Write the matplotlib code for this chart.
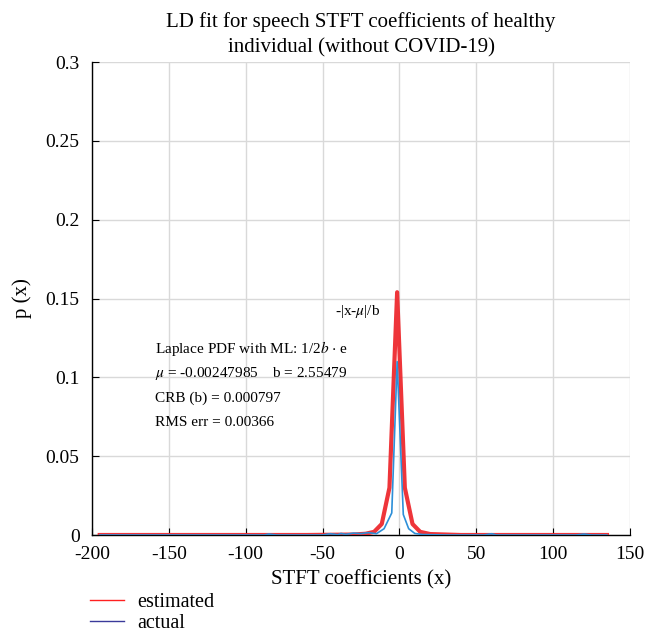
import matplotlib
matplotlib.use("Agg")
import matplotlib.pyplot as plt
from matplotlib.lines import Line2D

plt.rcParams['font.family'] = ['Liberation Serif', 'DejaVu Serif']
plt.rcParams['mathtext.fontset'] = 'stix'

# estimated (Laplace fit) curve
x_est = [-195, -60, -30, -22, -16.5, -11.5, -6.5, -1.5, 3.5, 8.5, 13.5, 20, 40, 135]
p_est = [0.0, 0.0, 0.0003, 0.0008, 0.002, 0.007, 0.030, 0.154, 0.030, 0.007, 0.002, 0.0006, 0.0, 0.0]

# actual histogram curve
x_act = [-195, -100, -88, -85, -80, -50, -45, -40, -38, -35, -30, -25, -20, -15, -10,
         -5, -1.5, 2.5, 6, 10, 15, 30, 55, 60, 63, 70, 115, 120, 125, 135]
p_act = [0.0, 0.0, 0.0, 0.0006, 0.0, 0.0, 0.0008, 0.0002, 0.001, 0.0004, 0.0012, 0.0009,
         0.0015, 0.0008, 0.004, 0.014, 0.110, 0.013, 0.004, 0.001, 0.0003, 0.0, 0.0,
         0.0008, 0.0, 0.0, 0.0, 0.0006, 0.0, 0.0]

x_ticks = [-200, -150, -100, -50, 0, 50, 100, 150]
y_ticks = [0, 0.05, 0.1, 0.15, 0.2, 0.25, 0.3]
y_tick_labels = ["0", "0.05", "0.1", "0.15", "0.2", "0.25", "0.3"]

fig = plt.figure(figsize=(6.64, 6.33), dpi=100)
ax = fig.add_axes([0.1386, 0.1548, 0.8102, 0.7472])

ax.plot(x_est, p_est, color='#ee2a2f', lw=3.0, alpha=0.95, zorder=3, solid_joinstyle='round')
ax.plot(x_act, p_act, color='#2d8fd8', lw=1.2, zorder=4)

ax.set_xlim(-200, 150)
ax.set_ylim(0, 0.3)
ax.set_xticks(x_ticks)
ax.set_xticklabels([str(t) for t in x_ticks])
ax.set_yticks(y_ticks)
ax.set_yticklabels(y_tick_labels)
ax.tick_params(direction='in', length=5, labelsize=14, colors='black')
ax.tick_params(axis='x', pad=8)
ax.tick_params(axis='y', pad=9)
ax.grid(True, color='#d9d9d9', lw=1.0)
ax.set_axisbelow(True)
for s in ['top', 'right']:
    ax.spines[s].set_visible(False)
for s in ['left', 'bottom']:
    ax.spines[s].set_linewidth(1.0)

ax.set_title("LD fit for speech STFT coefficients of healthy\nindividual (without COVID-19)",
             fontsize=15, pad=7, linespacing=1.4)
ax.set_xlabel("STFT coefficients (x)", fontsize=15, labelpad=5)
ax.set_ylabel("p (x)", fontsize=15, labelpad=10)

fs = 11
fig.text(335/664, 1 - 312/633, r"-|x-$\mu$|/b", fontsize=fs, va='center')
fig.text(155/664, 1 - 349/633, r"Laplace PDF with ML: 1/2$b$ $\cdot$ e", fontsize=fs, va='center')
fig.text(155/664, 1 - 373/633, r"$\mu$ = -0.00247985    b = 2.55479", fontsize=fs, va='center')
fig.text(155/664, 1 - 398/633, "CRB (b) = 0.000797", fontsize=fs, va='center')
fig.text(155/664, 1 - 422/633, "RMS err = 0.00366", fontsize=fs, va='center')

handles = [Line2D([], [], color='#ff2020', lw=1.0), Line2D([], [], color='#3a3a9a', lw=1.0)]
fig.legend(handles, ["estimated", "actual"], loc='upper left',
           bbox_to_anchor=(90/664, 1 - 593/633), frameon=False, fontsize=14.5,
           handlelength=1.7, handletextpad=0.65, labelspacing=0.1, borderpad=0.0,
           borderaxespad=0.0)

fig.savefig("out.png", dpi=100)
